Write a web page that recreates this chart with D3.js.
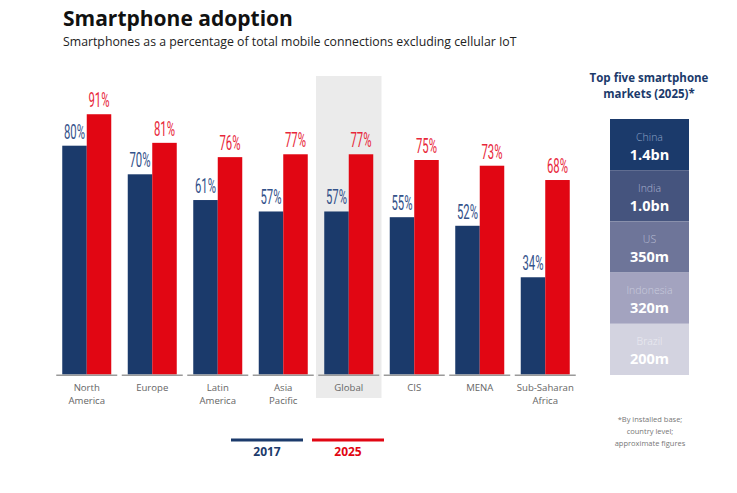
<!DOCTYPE html>
<html><head><meta charset="utf-8">
<script src="https://cdn.jsdelivr.net/npm/d3@7"></script>
<style>body{margin:0;background:#fff}svg{display:block}</style>
</head><body>
<svg id="c" width="737" height="493"></svg>
<script>
const categories = ["North America","Europe","Latin America","Asia Pacific","Global","CIS","MENA","Sub-Saharan Africa"];
const categoryLines = [["North","America"],["Europe"],["Latin","America"],["Asia","Pacific"],["Global"],["CIS"],["MENA"],["Sub-Saharan","Africa"]];
const series = ["2017","2025"];
const values2017 = [80,70,61,57,57,55,52,34];
const values2025 = [91,81,76,77,77,75,73,68];
const highlight = "Global";
const markets = ["China","India","US","Indonesia","Brazil"];
const marketValues = ["1.4bn","1.0bn","350m","320m","200m"];
const footnote = ["*By installed base;","country level;","approximate figures"];

const svg = d3.select("#c");
const blue = "#1b3a6b", red = "#e10613";
const labelCol = {"2017":"#34528a","2025":"#e8273a"};
const colors = {"2017":blue,"2025":red};

svg.append("text").attr("x",63).attr("y",26).attr("font-family","Open Sans, sans-serif")
  .attr("font-weight",700).attr("font-size",21).attr("fill","#111").text("Smartphone adoption");
svg.append("text").attr("x",63).attr("y",46).attr("font-family","Open Sans, sans-serif")
  .attr("font-size",12.3).attr("fill","#222").text("Smartphones as a percentage of total mobile connections excluding cellular IoT");

const x = d3.scaleBand().domain(categories).range([54,578]).padding(0);
const xs = d3.scaleBand().domain(series).range([0,49]).padding(0);
const y = d3.scaleLinear().domain([0,100]).range([374.5,88.5]);

// highlight
svg.append("rect").attr("x",x(highlight)).attr("y",76).attr("width",x.bandwidth()).attr("height",322).attr("fill","#ebebeb");

const data = categories.map((c,i)=>({cat:c, lines:categoryLines[i], vals:[{s:"2017",v:values2017[i]},{s:"2025",v:values2025[i]}]}));
const g = svg.selectAll("g.grp").data(data).join("g").attr("class","grp")
  .attr("transform",d=>`translate(${x(d.cat)+x.bandwidth()/2-24.5},0)`);

g.selectAll("rect").data(d=>d.vals).join("rect")
  .attr("x",d=>xs(d.s)).attr("width",xs.bandwidth())
  .attr("y",d=>y(d.v)).attr("height",d=>y(0)-y(d.v)).attr("fill",d=>colors[d.s]);

g.selectAll("text.val").data(d=>d.vals).join("text").attr("class","val")
  .attr("x",d=>xs(d.s)+xs.bandwidth()/2).attr("y",d=>y(d.v)-7)
  .attr("text-anchor","middle").attr("font-family","Roboto, sans-serif").attr("font-weight",400)
  .attr("font-size",20).attr("textLength",21).attr("lengthAdjust","spacingAndGlyphs")
  .attr("fill",d=>labelCol[d.s]).text(d=>d.v+"%");

// baseline segments
g.append("line").attr("x1",24.5-30.5).attr("x2",24.5+30.5).attr("y1",375.2).attr("y2",375.2)
  .attr("stroke","#9a9a9a").attr("stroke-width",1.5);

g.each(function(d){
  const sel = d3.select(this);
  d.lines.forEach((l,k)=>sel.append("text").attr("text-anchor","middle")
    .attr("font-family","Open Sans, sans-serif").attr("font-size",9.6).attr("fill","#666")
    .attr("x",24.5).attr("y",390.5+k*13).text(l));
});

// legend
const lg = [{s:"2017",x1:231,x2:303},{s:"2025",x1:312,x2:384}];
lg.forEach(l=>{
  svg.append("line").attr("x1",l.x1).attr("x2",l.x2).attr("y1",440).attr("y2",440)
    .attr("stroke",colors[l.s]).attr("stroke-width",3);
  svg.append("text").attr("x",(l.x1+l.x2)/2).attr("y",456).attr("text-anchor","middle")
    .attr("font-family","Open Sans, sans-serif").attr("font-weight",700).attr("font-size",12)
    .attr("fill",colors[l.s]).text(l.s);
});

// right panel
const pt = svg.append("text").attr("text-anchor","middle").attr("font-family","Open Sans, sans-serif")
  .attr("font-weight",700).attr("font-size",11.5).attr("fill",blue);
pt.append("tspan").attr("x",649).attr("y",82).text("Top five smartphone");
pt.append("tspan").attr("x",649).attr("y",98).text("markets (2025)*");

const boxFill = ["#1b3a6b","#45547e","#6e7599","#a3a3bf","#d3d3e0"];
const nameFill = ["#8ea2c6","#aab3cf","#b8bcd3","#c9cbdd","#ececf2"];
const by = d3.scaleBand().domain(markets).range([119,375]).padding(0);
markets.forEach((m,i)=>{
  svg.append("rect").attr("x",610).attr("y",by(m)).attr("width",79).attr("height",by.bandwidth()).attr("fill",boxFill[i]);
  svg.append("text").attr("x",649.5).attr("y",by(m)+21.5).attr("text-anchor","middle")
    .attr("font-family","Open Sans, sans-serif").attr("font-weight",300).attr("font-size",10.5).attr("fill",nameFill[i]).text(m);
  svg.append("text").attr("x",649.5).attr("y",by(m)+40.5).attr("text-anchor","middle")
    .attr("font-family","Open Sans, sans-serif").attr("font-weight",700).attr("font-size",14.5).attr("fill","#fff").text(marketValues[i]);
});

footnote.forEach((f,i)=>{
  svg.append("text").attr("x",650).attr("y",422+i*12).attr("text-anchor","middle")
    .attr("font-family","Open Sans, sans-serif").attr("font-size",7.5).attr("fill","#777").text(f);
});
</script>
</body></html>
